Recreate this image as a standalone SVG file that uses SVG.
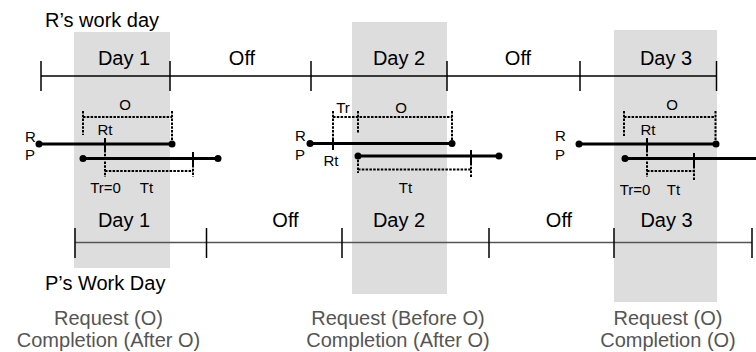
<svg xmlns="http://www.w3.org/2000/svg" width="756" height="352" viewBox="0 0 756 352">
  <style>
    text { font-family: "Liberation Sans", Arial, sans-serif; fill: #000; }
    .big { font-size: 20px; text-anchor: middle; }
    .lbl { font-size: 20px; }
    .note { font-size: 20px; text-anchor: middle; fill: #555; }
    .sm { font-size: 15px; text-anchor: middle; }
    .sms { font-size: 15px; }
    .shade { fill: #dddddd; }
    .axis { stroke: #000; stroke-width: 1.5; fill: none; }
    .axisP { stroke: #555; stroke-width: 1.5; fill: none; }
    .tick { stroke: #000; stroke-width: 1.5; }
    .bar { stroke: #000; stroke-width: 3; fill: none; }
    .dash { stroke: #000; stroke-width: 2; stroke-dasharray: 2.5 1.3; fill: none; }
    .solid { stroke: #000; stroke-width: 2; fill: none; }
    .dot { fill: #000; }
  </style>

  <!-- working-day shading -->
  <g id="shading">
    <rect class="shade" x="74" y="32" width="96" height="236"/>
    <rect class="shade" x="352" y="22" width="95" height="272"/>
    <rect class="shade" x="614" y="30" width="103" height="272"/>
  </g>

  <!-- R timeline -->
  <g id="r-timeline">
    <text class="lbl" x="45" y="27">R’s work day</text>
    <line class="axis" x1="41" y1="76" x2="717" y2="76"/>
    <line class="tick" x1="41" y1="61" x2="41" y2="91"/>
    <line class="tick" x1="170" y1="61" x2="170" y2="91"/>
    <line class="tick" x1="311" y1="61" x2="311" y2="91"/>
    <line class="tick" x1="447" y1="61" x2="447" y2="91"/>
    <line class="tick" x1="580" y1="61" x2="580" y2="91"/>
    <line class="tick" x1="716.5" y1="61" x2="716.5" y2="91"/>
    <text class="big" x="124" y="65">Day 1</text>
    <text class="big" x="242" y="65">Off</text>
    <text class="big" x="399" y="65">Day 2</text>
    <text class="big" x="518" y="65">Off</text>
    <text class="big" x="666" y="65">Day 3</text>
  </g>

  <!-- P timeline -->
  <g id="p-timeline">
    <line class="axisP" x1="75" y1="242.5" x2="752" y2="242.5"/>
    <line class="tick" x1="75" y1="228" x2="75" y2="258"/>
    <line class="tick" x1="206.5" y1="228" x2="206.5" y2="258"/>
    <line class="tick" x1="342" y1="228" x2="342" y2="258"/>
    <line class="tick" x1="489" y1="228" x2="489" y2="258"/>
    <line class="tick" x1="614" y1="228" x2="614" y2="258"/>
    <line class="tick" x1="752" y1="228" x2="752" y2="258"/>
    <text class="big" x="124" y="227">Day 1</text>
    <text class="big" x="285.5" y="227">Off</text>
    <text class="big" x="399" y="227">Day 2</text>
    <text class="big" x="559" y="227">Off</text>
    <text class="big" x="666.5" y="227">Day 3</text>
    <text class="lbl" x="45" y="290">P’s Work Day</text>
  </g>

  <!-- case 1: request inside O, completion after O -->
  <g id="case-1">
    <line class="dash" x1="83" y1="117" x2="172" y2="117"/>
    <line class="dash" x1="83" y1="111" x2="83" y2="135"/>
    <line class="dash" x1="172" y1="111" x2="172" y2="140"/>
    <text class="sm" x="125" y="110">O</text>
    <text class="sms" x="25" y="141.5">R</text>
    <text class="sms" x="25" y="160">P</text>
    <line class="bar" x1="39" y1="144" x2="172" y2="144"/>
    <circle class="dot" cx="39" cy="144" r="3.5"/>
    <circle class="dot" cx="172" cy="144" r="3.5"/>
    <line class="bar" x1="83" y1="158.5" x2="218" y2="158.5"/>
    <circle class="dot" cx="83" cy="158.5" r="3.5"/>
    <circle class="dot" cx="218" cy="158.5" r="3.5"/>
    <line class="solid" x1="105" y1="138" x2="105" y2="150"/>
    <line class="dash" x1="105" y1="150" x2="105" y2="177"/>
    <text class="sm" x="105" y="135">Rt</text>
    <line class="dash" x1="105" y1="171" x2="193" y2="171"/>
    <line class="solid" x1="193" y1="152" x2="193" y2="165"/>
    <line class="dash" x1="193" y1="165" x2="193" y2="177"/>
    <text class="sm" x="105.5" y="193">Tr=0</text>
    <text class="sm" x="146.5" y="193">Tt</text>
  </g>

  <!-- case 2: request before O, completion after O -->
  <g id="case-2">
    <line class="dash" x1="333" y1="117" x2="452" y2="117"/>
    <line class="dash" x1="333" y1="111" x2="333" y2="138"/>
    <line class="solid" x1="333" y1="138" x2="333" y2="150"/>
    <line class="dash" x1="358" y1="111" x2="358" y2="133"/>
    <line class="dash" x1="452" y1="111" x2="452" y2="140"/>
    <text class="sm" x="343" y="113">Tr</text>
    <text class="sm" x="401" y="113">O</text>
    <text class="sms" x="295" y="141">R</text>
    <text class="sms" x="295" y="159.5">P</text>
    <line class="bar" x1="310" y1="143.5" x2="452" y2="143.5"/>
    <circle class="dot" cx="310" cy="143.5" r="3.5"/>
    <circle class="dot" cx="452" cy="143.5" r="3.5"/>
    <text class="sm" x="331" y="166">Rt</text>
    <line class="bar" x1="358" y1="156" x2="499" y2="156"/>
    <circle class="dot" cx="358" cy="156" r="3.5"/>
    <circle class="dot" cx="499" cy="156" r="3.5"/>
    <line class="dash" x1="358" y1="156" x2="358" y2="173"/>
    <line class="dash" x1="358" y1="169.5" x2="471" y2="169.5"/>
    <line class="solid" x1="471" y1="150" x2="471" y2="163"/>
    <line class="dash" x1="471" y1="163" x2="471" y2="177"/>
    <text class="sm" x="405.5" y="193">Tt</text>
  </g>

  <!-- case 3: request and completion inside O -->
  <g id="case-3">
    <line class="dash" x1="624" y1="117" x2="715.5" y2="117"/>
    <line class="dash" x1="624" y1="111" x2="624" y2="136"/>
    <line class="dash" x1="715.5" y1="111" x2="715.5" y2="140"/>
    <text class="sm" x="672" y="110">O</text>
    <text class="sms" x="555" y="141">R</text>
    <text class="sms" x="555" y="160">P</text>
    <line class="bar" x1="579" y1="144" x2="716" y2="144"/>
    <circle class="dot" cx="579" cy="144" r="3.5"/>
    <circle class="dot" cx="716" cy="144" r="3.5"/>
    <line class="bar" x1="625" y1="158.5" x2="760" y2="158.5"/>
    <circle class="dot" cx="625" cy="158.5" r="3.5"/>
    <line class="solid" x1="647" y1="138" x2="647" y2="150"/>
    <line class="dash" x1="647" y1="150" x2="647" y2="177"/>
    <text class="sm" x="648" y="135">Rt</text>
    <line class="dash" x1="647" y1="171" x2="694" y2="171"/>
    <line class="solid" x1="694" y1="153" x2="694" y2="166"/>
    <line class="dash" x1="694" y1="166" x2="694" y2="180"/>
    <text class="sm" x="635" y="195">Tr=0</text>
    <text class="sm" x="673.5" y="195">Tt</text>
  </g>

  <!-- case captions -->
  <g id="captions">
    <text class="note" x="108.5" y="325">Request (O)</text>
    <text class="note" x="108.5" y="347">Completion (After O)</text>
    <text class="note" x="398" y="325">Request (Before O)</text>
    <text class="note" x="398" y="347">Completion (After O)</text>
    <text class="note" x="668" y="325">Request (O)</text>
    <text class="note" x="668" y="347">Completion (O)</text>
  </g>
</svg>
